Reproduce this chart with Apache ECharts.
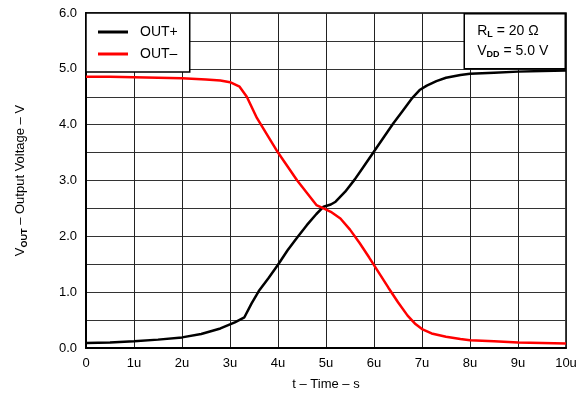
<!DOCTYPE html>
<html><head><meta charset="utf-8">
<script src="https://cdn.jsdelivr.net/npm/echarts@6/dist/echarts.min.js"></script>
<style>html,body{margin:0;padding:0;background:#fff}#c{width:585px;height:402px}</style>
</head><body><div id="c"></div>
<script>
// time in microseconds, voltage in volts
const outPlusT = [0, 0.5, 1.0, 1.5, 2.0, 2.4, 2.8, 3.1, 3.3, 3.45, 3.6, 3.8, 4.0, 4.2, 4.4, 4.6, 4.8, 4.95, 5.1, 5.2, 5.4, 5.6, 5.8, 6.0, 6.2, 6.4, 6.6, 6.8, 6.95, 7.1, 7.3, 7.5, 7.8, 8.0, 8.5, 9.0, 9.5, 10.0];
const outPlusV = [0.09, 0.10, 0.12, 0.15, 0.19, 0.25, 0.35, 0.46, 0.55, 0.80, 1.02, 1.25, 1.49, 1.75, 1.98, 2.20, 2.40, 2.53, 2.57, 2.62, 2.80, 3.02, 3.27, 3.52, 3.77, 4.02, 4.25, 4.48, 4.62, 4.70, 4.78, 4.84, 4.89, 4.91, 4.93, 4.95, 4.96, 4.97];
const outMinusT = [0, 0.5, 1.0, 1.5, 2.0, 2.5, 2.8, 3.0, 3.2, 3.35, 3.56, 3.8, 4.0, 4.2, 4.4, 4.6, 4.8, 4.95, 5.1, 5.3, 5.5, 5.7, 5.9, 6.1, 6.3, 6.5, 6.7, 6.85, 7.0, 7.2, 7.5, 7.8, 8.0, 8.5, 9.0, 9.5, 10.0];
const outMinusV = [4.86, 4.86, 4.85, 4.84, 4.83, 4.81, 4.79, 4.76, 4.68, 4.50, 4.12, 3.78, 3.50, 3.25, 3.00, 2.78, 2.56, 2.50, 2.44, 2.32, 2.12, 1.88, 1.62, 1.35, 1.08, 0.82, 0.58, 0.44, 0.34, 0.26, 0.20, 0.16, 0.14, 0.12, 0.10, 0.09, 0.08];
const xTicks = ['0','1u','2u','3u','4u','5u','6u','7u','8u','9u','10u'];
const seriesNames = ['OUT+', 'OUT\u2013'];

const chart = echarts.init(document.getElementById('c'));
const FONT = 'Liberation Sans';
chart.setOption({
  animation: false,
  textStyle: {fontFamily: FONT},
  grid: {left: 86, right: 19, top: 13, bottom: 54, show: true, borderColor: '#000', borderWidth: 1.5},
  legend: {
    left: 86, top: 13, orient: 'vertical', backgroundColor: '#fff', z: 50,
    borderColor: '#000', borderWidth: 1.5, padding: [12, 12, 11, 12], itemGap: 8,
    itemWidth: 30, itemHeight: 3, icon: 'rect',
    textStyle: {fontFamily: FONT, fontSize: 14, color: '#000', padding: [0, 0, 0, 7]},
    data: seriesNames
  },
  xAxis: {
    type: 'value', min: 0, max: 10, interval: 1,
    name: 't \u2013 Time \u2013 s', nameLocation: 'middle', nameGap: 30,
    nameTextStyle: {fontFamily: FONT, fontSize: 13, color: '#000'},
    axisLine: {show: true, lineStyle: {color: '#000', width: 2}},
    axisTick: {show: false},
    axisLabel: {fontFamily: FONT, fontSize: 13, color: '#000', margin: 9,
      formatter: v => xTicks[Math.round(v)]},
    splitLine: {show: true, lineStyle: {color: '#222', width: 1}}
  },
  yAxis: {
    type: 'value', min: 0, max: 6, interval: 0.5,
    name: '{a|V}{s|OUT}{a| \u2013 Output Voltage \u2013 V}', nameLocation: 'middle', nameGap: 58, nameRotate: 90,
    nameTextStyle: {rich: {
      a: {fontFamily: FONT, fontSize: 13, color: '#000', lineHeight: 16},
      s: {fontFamily: FONT, fontSize: 9, fontWeight: 'bold', color: '#000', lineHeight: 10, padding: [9, 0, 0, 0]}
    }},
    axisLine: {show: true, lineStyle: {color: '#000', width: 2}},
    axisTick: {show: false},
    axisLabel: {fontFamily: FONT, fontSize: 13, color: '#000', margin: 9,
      formatter: v => (Math.abs(v - Math.round(v)) < 1e-6 ? v.toFixed(1) : '')},
    splitLine: {show: true, lineStyle: {color: '#333', width: 1}}
  },
  graphic: [{
    type: 'group', right: 19, top: 13, z: 100,
    children: [
      {type: 'rect', z: 100, shape: {x: 0, y: 0, width: 101, height: 55}, style: {fill: '#fff', stroke: '#000', lineWidth: 1.5}},
      {type: 'text', z: 101, x: 13, y: 7, style: {
        text: '{a|R}{s|L}{a| = 20 \u03a9}\n{a|V}{s|DD}{a| = 5.0 V}',
        rich: {
          a: {fontFamily: FONT, fontSize: 14, color: '#000', lineHeight: 20},
          s: {fontFamily: FONT, fontSize: 9, fontWeight: 'bold', color: '#000', lineHeight: 20, padding: [7, 0, 0, 0]}
        }
      }}
    ]
  }],
  series: [
    {name: seriesNames[0], type: 'line', showSymbol: false, color: '#000',
     lineStyle: {width: 2.5, color: '#000'},
     data: outPlusT.map((t, i) => [t, outPlusV[i]])},
    {name: seriesNames[1], type: 'line', showSymbol: false, color: '#ff0000',
     lineStyle: {width: 2.5, color: '#ff0000'},
     data: outMinusT.map((t, i) => [t, outMinusV[i]])}
  ]
});
</script></body></html>
